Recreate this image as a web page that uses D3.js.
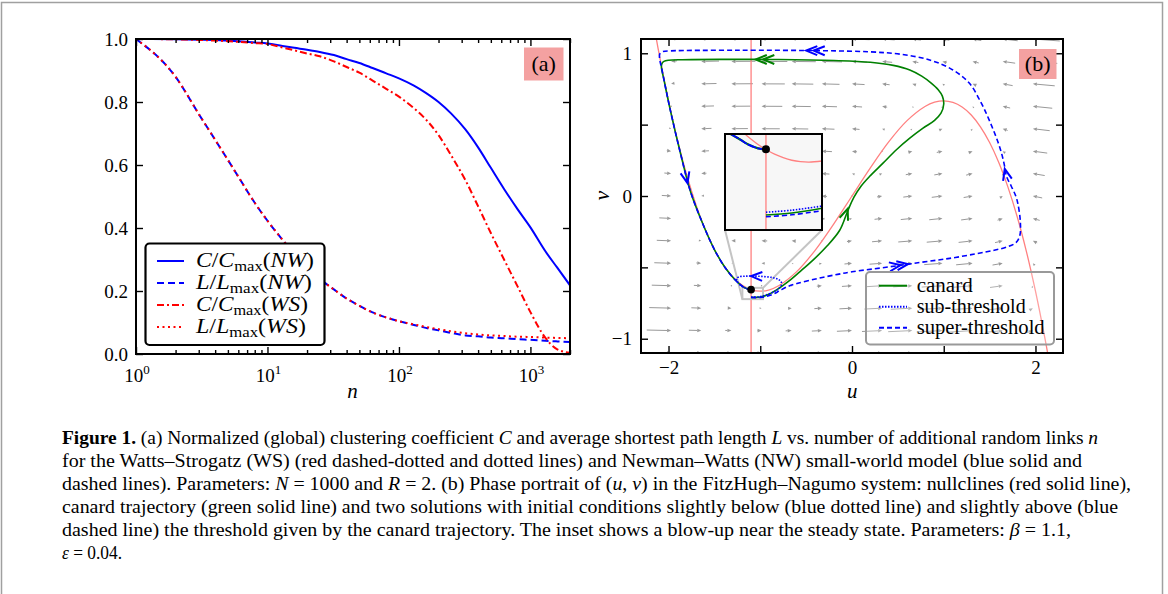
<!DOCTYPE html>
<html>
<head>
<meta charset="utf-8">
<script src="https://cdn.jsdelivr.net/npm/d3@7"></script>
<style>
body { margin: 0; background: #fff; }
svg text { font-family: "Liberation Serif", "DejaVu Serif", serif; white-space: pre; }
</style>
</head>
<body>
<svg id="fig" width="1168" height="594"></svg>
<script>
// ---- panel (a): clustering / path length vs n ----
var nVals = [1, 2, 3, 4, 5, 6, 8, 10, 13, 16, 20, 25, 32, 40, 50, 63, 80, 100, 130, 160, 200, 250, 320, 400, 500, 630, 800, 1000, 1300, 1600, 2000];
var cNW = [1.000, 0.999, 0.998, 0.997, 0.995, 0.993, 0.989, 0.986, 0.978, 0.972, 0.966, 0.959, 0.949, 0.936, 0.924, 0.908, 0.891, 0.875, 0.852, 0.829, 0.800, 0.763, 0.713, 0.656, 0.591, 0.524, 0.459, 0.402, 0.326, 0.274, 0.218];
var lNW = [1.000, 0.880, 0.762, 0.680, 0.616, 0.563, 0.480, 0.423, 0.363, 0.318, 0.274, 0.238, 0.205, 0.176, 0.153, 0.132, 0.116, 0.104, 0.092, 0.083, 0.075, 0.067, 0.059, 0.056, 0.052, 0.050, 0.047, 0.045, 0.042, 0.040, 0.038];
var cWS = [1.000, 0.999, 0.997, 0.995, 0.993, 0.991, 0.987, 0.984, 0.973, 0.964, 0.954, 0.945, 0.929, 0.911, 0.893, 0.868, 0.842, 0.817, 0.780, 0.745, 0.695, 0.630, 0.552, 0.469, 0.384, 0.300, 0.214, 0.133, 0.051, 0.015, 0.004];
var lWS = [1.000, 0.880, 0.762, 0.680, 0.616, 0.563, 0.480, 0.423, 0.363, 0.318, 0.274, 0.238, 0.205, 0.176, 0.153, 0.132, 0.116, 0.104, 0.094, 0.086, 0.079, 0.072, 0.066, 0.062, 0.059, 0.057, 0.055, 0.054, 0.052, 0.051, 0.050];
var yTicksA = [0, 0.2, 0.4, 0.6, 0.8, 1.0];
var decades = [1, 10, 100, 1000];

// ---- panel (b): FitzHugh-Nagumo phase portrait ----
var nullU = [-2.14, -2.1, -2.0, -1.9, -1.8, -1.7, -1.6, -1.5, -1.4, -1.3, -1.2, -1.1, -1.0, -0.9, -0.8, -0.6, -0.4, -0.2, 0, 0.2, 0.4, 0.6, 0.8, 0.9, 1.0, 1.1, 1.2, 1.3, 1.4, 1.5, 1.6, 1.7, 1.8, 1.9, 2.0, 2.1, 2.14];
var nullV = [1.127, 0.987, 0.667, 0.386, 0.144, -0.062, -0.235, -0.375, -0.485, -0.568, -0.624, -0.656, -0.667, -0.657, -0.629, -0.528, -0.379, -0.197, 0, 0.197, 0.379, 0.528, 0.629, 0.657, 0.667, 0.656, 0.624, 0.568, 0.485, 0.375, 0.235, 0.062, -0.144, -0.386, -0.667, -0.987, -1.127];
var beta = 1.1;
var steady = [-1.1, -0.656];

// vector field grid: fGrid = cubic nullcline value per column, dvGrid = v-rate per column
var uGrid = [-2.3, -1.9714, -1.6429, -1.3143, -0.9857, -0.6571, -0.3286, 0, 0.3286, 0.6571, 0.9857, 1.3143, 1.6429, 1.9714, 2.3];
var fGrid = [1.7557, 0.5825, -0.1648, -0.5575, -0.6665, -0.5625, -0.3168, 0, 0.3168, 0.5625, 0.6665, 0.5575, 0.1648, -0.5825, -1.7557];
var dvGrid = [-0.048, -0.0349, -0.0217, -0.0086, 0.0046, 0.0177, 0.0309, 0.044, 0.0571, 0.0703, 0.0834, 0.0966, 0.1097, 0.1229, 0.136];
var vGrid = [-1.1, -0.9429, -0.7857, -0.6286, -0.4714, -0.3143, -0.1571, 0, 0.1571, 0.3143, 0.4714, 0.6286, 0.7857, 0.9429, 1.1];

var leftBranch = [[-2.078, 0.905], [-2.05, 0.815], [-1.98, 0.60], [-1.87, 0.30], [-1.76, 0.03], [-1.62, -0.205], [-1.5, -0.375], [-1.38, -0.505], [-1.27, -0.59], [-1.19, -0.635], [-1.14, -0.651], [-1.1, -0.656]];
var canard = [[-1.1, -0.710], [-1.0, -0.708], [-0.9, -0.686], [-0.8, -0.648], [-0.7, -0.602], [-0.57, -0.531], [-0.425, -0.449], [-0.28, -0.356], [-0.134, -0.24], [-0.05, -0.11], [0.02, -0.01], [0.1, 0.07], [0.193, 0.138], [0.338, 0.23], [0.484, 0.324], [0.63, 0.405], [0.774, 0.475], [0.90, 0.53], [0.97, 0.58], [1.0, 0.645], [0.985, 0.70], [0.94, 0.745], [0.86, 0.793], [0.76, 0.84], [0.63, 0.883], [0.45, 0.915], [0.2, 0.937], [-0.2, 0.949], [-0.8, 0.956], [-1.4, 0.957], [-1.85, 0.955], [-2.0, 0.951], [-2.05, 0.943], [-2.072, 0.928]].concat(leftBranch);
var superT = [[-1.1, -0.7116], [-1.0, -0.711], [-0.93, -0.703], [-0.86, -0.688], [-0.79, -0.664], [-0.72, -0.64], [-0.6, -0.613], [-0.374, -0.578], [-0.156, -0.549], [0.0, -0.531], [0.41, -0.496], [0.75, -0.465], [1.065, -0.437], [1.35, -0.405], [1.55, -0.38], [1.70, -0.355], [1.79, -0.325], [1.83, -0.275], [1.835, -0.18], [1.81, -0.06], [1.785, 0.0], [1.735, 0.07], [1.684, 0.138], [1.66, 0.22], [1.63, 0.30], [1.59, 0.38], [1.54, 0.464], [1.48, 0.555], [1.41, 0.65], [1.28, 0.79], [1.10, 0.883], [0.847, 0.953], [0.52, 0.994], [0.193, 1.01], [-0.3, 1.018], [-1.246, 1.021], [-1.974, 1.017], [-2.06, 1.012], [-2.095, 0.995], [-2.097, 0.96], [-2.088, 0.93]].concat(leftBranch);
var subT = [[-1.1, -0.708], [-1.0, -0.705], [-0.9, -0.685], [-0.82, -0.66], [-0.775, -0.632], [-0.77, -0.605], [-0.8, -0.585], [-0.87, -0.571], [-0.97, -0.564], [-1.07, -0.561], [-1.17, -0.562], [-1.235, -0.567], [-1.258, -0.58], [-1.25, -0.6], [-1.21, -0.627], [-1.15, -0.648], [-1.1, -0.656]];

// flow direction marks: tip u, tip v, a point behind on the path, number of heads
var canardHeads = [[-1.05, 0.957, -0.8, 0.956, 2], [-0.047, -0.09, -0.134, -0.24, 1]];
var superHeads = [[-0.5, 1.019, -0.3, 1.018, 2], [-1.793, 0.09, -1.87, 0.30, 1], [1.665, 0.19, 1.70, 0.10, 1], [0.61, -0.477, 0.41, -0.496, 2]];
var subHeads = [[-1.10, -0.561, -0.97, -0.564, 1]];

// inset (blow-up near steady state)
var insetNullU = [-1.18, -1.16, -1.14, -1.12, -1.1, -1.08, -1.06, -1.04, -1.02, -1.0, -0.97];
var insetNullV = [-0.6323, -0.6397, -0.6462, -0.6517, -0.6563, -0.6601, -0.663, -0.6651, -0.6663, -0.6667, -0.6657];
var insetApproach = [[-1.182, -0.6435], [-1.16, -0.648], [-1.142, -0.652], [-1.118, -0.6553], [-1.1, -0.6563]];
var insetCanard = [[-1.1, -0.7102], [-1.04, -0.7085], [-0.97, -0.7046]];
var insetSuper = [[-1.1, -0.7116], [-1.04, -0.7100], [-0.97, -0.7066]];
var insetSub = [[-1.1, -0.7079], [-1.04, -0.7062], [-0.97, -0.7028]];

var captionLines = [
	[["Figure 1.", "b"], [" (a) Normalized (global) clustering coefficient ", ""], ["C", "i"], [" and average shortest path length ", ""], ["L", "i"], [" vs. number of additional random links ", ""], ["n", "i"]],
	[["for the Watts–Strogatz (WS) (red dashed-dotted and dotted lines) and Newman–Watts (NW) small-world model (blue solid and", ""]],
	[["dashed lines). Parameters: ", ""], ["N", "i"], [" = 1000 and ", ""], ["R", "i"], [" = 2. (b) Phase portrait of (", ""], ["u", "i"], [", ", ""], ["v", "i"], [") in the FitzHugh–Nagumo system: nullclines (red solid line),", ""]],
	[["canard trajectory (green solid line) and two solutions with initial conditions slightly below (blue dotted line) and slightly above (blue", ""]],
	[["dashed line) the threshold given by the canard trajectory. The inset shows a blow-up near the steady state. Parameters: ", ""], ["β", "i"], [" = 1.1,", ""]],
	[["ε", "i"], [" = 0.04.", ""]]
];
var captionRight = [1098, 1082, 1131, 1118, 1071, 122];

var svg = d3.select("#fig");
var FONT = "'Liberation Serif', 'DejaVu Serif', serif";

// outer frame of the figure
svg.append("rect").attr("x", 1.5).attr("y", 2.5).attr("width", 1161).attr("height", 600)
	.attr("fill", "none").attr("stroke", "#a0a0a0").attr("stroke-width", 1.5);

function styleAxis(g) {
	g.select(".domain").remove();
	g.selectAll(".tick line").attr("stroke", "#000").attr("stroke-width", 1.4);
	g.selectAll(".tick text").attr("font-family", FONT).attr("font-size", 19).attr("fill", "#000");
}

//================ panel (a) ================
var A = { l: 136, r: 570, t: 39, b: 354 };
var xA = d3.scaleLog().domain([1, 2000]).range([A.l, A.r]);
var yA = d3.scaleLinear().domain([0, 1]).range([A.b, A.t]);
var minorA = [];
decades.forEach(function(d) { for (var k = 2; k <= 9; k++) if (d * k <= 2000) minorA.push(d * k); });

var gA = svg.append("g");
gA.append("clipPath").attr("id", "clipA").append("rect")
	.attr("x", A.l).attr("y", A.t).attr("width", A.r - A.l).attr("height", A.b - A.t);

var seriesA = [
	{ vals: cNW, color: "#0000ff", dash: null, label: ["C", "C", "NW"] },
	{ vals: lNW, color: "#0000ff", dash: "7,4", label: ["L", "L", "NW"] },
	{ vals: cWS, color: "#ff0000", dash: "7,3,2,3", label: ["C", "C", "WS"] },
	{ vals: lWS, color: "#ff0000", dash: "2,3.5", label: ["L", "L", "WS"] }
];
var lineA = d3.line()
	.x(function(d) { return xA(d[0]); })
	.y(function(d) { return yA(d[1]); })
	.curve(d3.curveMonotoneX);

var plotA = gA.append("g").attr("clip-path", "url(#clipA)");
seriesA.forEach(function(s) {
	plotA.append("path")
		.datum(nVals.map(function(n, i) { return [n, s.vals[i]]; }))
		.attr("d", lineA)
		.attr("fill", "none")
		.attr("stroke", s.color)
		.attr("stroke-width", 2)
		.attr("stroke-dasharray", s.dash);
});

gA.append("g").attr("transform", "translate(" + A.l + ",0)")
	.call(d3.axisLeft(yA).tickValues(yTicksA).tickSize(-7).tickPadding(8).tickFormat(d3.format(".1f"))).call(styleAxis);
gA.append("g").attr("transform", "translate(" + A.r + ",0)")
	.call(d3.axisRight(yA).tickValues(yTicksA).tickSize(-7).tickFormat("")).call(styleAxis);
gA.append("g").attr("transform", "translate(0," + A.b + ")")
	.call(d3.axisBottom(xA).tickValues(decades).tickSize(-7).tickFormat("")).call(styleAxis);
gA.append("g").attr("transform", "translate(0," + A.b + ")")
	.call(d3.axisBottom(xA).tickValues(minorA).tickSize(-4).tickFormat("")).call(styleAxis);
gA.append("g").attr("transform", "translate(0," + A.t + ")")
	.call(d3.axisTop(xA).tickValues(decades).tickSize(-7).tickFormat("")).call(styleAxis);
gA.append("g").attr("transform", "translate(0," + A.t + ")")
	.call(d3.axisTop(xA).tickValues(minorA).tickSize(-4).tickFormat("")).call(styleAxis);

decades.forEach(function(d) {
	var t = gA.append("text").attr("x", xA(d) + 1).attr("y", 381.5)
		.attr("text-anchor", "middle").attr("font-size", 19);
	t.append("tspan").text("10");
	t.append("tspan").attr("font-size", 13).attr("dy", -8).text(Math.round(Math.log10(d)));
});

gA.append("rect").attr("x", A.l).attr("y", A.t).attr("width", A.r - A.l).attr("height", A.b - A.t)
	.attr("fill", "none").attr("stroke", "#000").attr("stroke-width", 2);

gA.append("text").attr("x", 352.5).attr("y", 398).attr("text-anchor", "middle")
	.attr("font-size", 21).attr("font-style", "italic").text("n");

// (a) tag
gA.append("rect").attr("x", 524).attr("y", 47.5).attr("width", 39.5).attr("height", 33).attr("fill", "#f4a1a1");
gA.append("text").attr("x", 543.7).attr("y", 71).attr("text-anchor", "middle").attr("font-size", 22).text("(a)");

// legend (a)
var legA = gA.append("g");
legA.append("rect").attr("x", 145.5).attr("y", 243.5).attr("width", 179).attr("height", 101.5)
	.attr("rx", 4).attr("fill", "#fff").attr("stroke", "#000").attr("stroke-width", 2.2);
var legRowsA = [261, 283, 305, 327];
var legWidthA = [118, 116, 112, 110];
seriesA.forEach(function(s, i) {
	var y = legRowsA[i];
	legA.append("line").attr("x1", 157).attr("x2", 184).attr("y1", y).attr("y2", y)
		.attr("stroke", s.color).attr("stroke-width", 2).attr("stroke-dasharray", s.dash);
	var t = legA.append("text").attr("x", 196).attr("y", y + 6).attr("font-size", 20)
		.attr("textLength", legWidthA[i]).attr("lengthAdjust", "spacingAndGlyphs");
	t.append("tspan").attr("font-style", "italic").text(s.label[0]);
	t.append("tspan").text("/");
	t.append("tspan").attr("font-style", "italic").text(s.label[1]);
	t.append("tspan").attr("font-size", 14).attr("dy", 4).text("max");
	t.append("tspan").attr("dy", -4).text("(");
	t.append("tspan").attr("font-style", "italic").text(s.label[2]);
	t.append("tspan").text(")");
});

//================ panel (b) ================
var B = { l: 641, r: 1063, t: 39, b: 353 };
var xB = d3.scaleLinear().domain([-2.3, 2.3]).range([B.l, B.r]);
var yB = d3.scaleLinear().domain([-1.1, 1.1]).range([B.b, B.t]);

var gB = svg.append("g");
gB.append("clipPath").attr("id", "clipB").append("rect")
	.attr("x", B.l).attr("y", B.t).attr("width", B.r - B.l).attr("height", B.b - B.t);
var plotB = gB.append("g").attr("clip-path", "url(#clipB)");

// quiver field (arrow tip sits on grid point)
var arrowScale = 16;
var quiver = [];
uGrid.forEach(function(u, i) {
	vGrid.forEach(function(v) {
		quiver.push({ u: u, v: v, du: fGrid[i] - v, dv: dvGrid[i] });
	});
});
var qg = plotB.append("g").attr("fill", "#999").attr("stroke", "#999");
quiver.forEach(function(q) {
	var tx = xB(q.u), ty = yB(q.v);
	var dx = q.du * arrowScale, dy = -q.dv * arrowScale;
	var L = Math.sqrt(dx * dx + dy * dy);
	if (L < 1.2) {
		qg.append("circle").attr("cx", tx).attr("cy", ty).attr("r", 0.7).attr("stroke", "none");
		return;
	}
	var ux = dx / L, uy = dy / L;
	var hl = Math.min(4, L), hw = Math.min(1.8, L * 0.45);
	var bx = tx - ux * hl, by = ty - uy * hl;
	if (L > hl) {
		qg.append("line").attr("x1", tx - dx).attr("y1", ty - dy).attr("x2", bx).attr("y2", by)
			.attr("stroke-width", 1);
	}
	qg.append("path").attr("stroke", "none")
		.attr("d", "M" + tx + "," + ty + "L" + (bx - uy * hw) + "," + (by + ux * hw) + "L" + (bx + uy * hw) + "," + (by - ux * hw) + "Z");
});

var lineB = d3.line()
	.x(function(d) { return xB(d[0]); })
	.y(function(d) { return yB(d[1]); })
	.curve(d3.curveCatmullRom.alpha(0.5));

// nullclines
plotB.append("path").datum(nullU.map(function(u, i) { return [u, nullV[i]]; }))
	.attr("d", lineB).attr("fill", "none").attr("stroke", "#ff8080").attr("stroke-width", 1.3);
plotB.append("line").attr("x1", xB(-beta)).attr("x2", xB(-beta)).attr("y1", B.t).attr("y2", B.b)
	.attr("stroke", "#ff8080").attr("stroke-width", 1.3);

// inset marker box and connectors
var xI = d3.scaleLinear().domain([-1.195, -0.97]).range([725, 822]);
var yI = d3.scaleLinear().domain([-0.7225, -0.6435]).range([230, 134]);
var mk = { x0: xB(-1.195), x1: xB(-0.97), y0: yB(-0.6435), y1: yB(-0.7225) };
plotB.append("rect").attr("x", mk.x0).attr("y", mk.y0).attr("width", mk.x1 - mk.x0).attr("height", mk.y1 - mk.y0)
	.attr("fill", "none").attr("stroke", "#c4c4c4").attr("stroke-width", 2);
plotB.append("line").attr("x1", 725).attr("y1", 230).attr("x2", mk.x0).attr("y2", mk.y1)
	.attr("stroke", "#c4c4c4").attr("stroke-width", 2);
plotB.append("line").attr("x1", 822).attr("y1", 230).attr("x2", mk.x1).attr("y2", mk.y0)
	.attr("stroke", "#c4c4c4").attr("stroke-width", 2);

// trajectories
var trajStyle = [
	{ pts: canard, color: "#008000", dash: null, w: 1.6, heads: canardHeads },
	{ pts: subT, color: "#0000ff", dash: "1.5,1.5", w: 1.6, heads: subHeads },
	{ pts: superT, color: "#0000ff", dash: "5,3", w: 1.6, heads: superHeads }
];
trajStyle.forEach(function(s) {
	plotB.append("path").datum(s.pts).attr("d", lineB)
		.attr("fill", "none").attr("stroke", s.color).attr("stroke-width", s.w).attr("stroke-dasharray", s.dash);
});

function chevrons(g, h, color, xs, ys) {
	var tx = xs(h[0]), ty = ys(h[1]);
	var dx = tx - xs(h[2]), dy = ty - ys(h[3]);
	var L = Math.sqrt(dx * dx + dy * dy);
	var ux = dx / L, uy = dy / L;
	var arm = 12, sp = Math.sin(22 * Math.PI / 180), cp = Math.cos(22 * Math.PI / 180);
	for (var k = 0; k < h[4]; k++) {
		var px = tx - ux * 7.5 * k, py = ty - uy * 7.5 * k;
		var ax1 = px - arm * (ux * cp - uy * sp), ay1 = py - arm * (uy * cp + ux * sp);
		var ax2 = px - arm * (ux * cp + uy * sp), ay2 = py - arm * (uy * cp - ux * sp);
		g.append("path").attr("d", "M" + ax1 + "," + ay1 + "L" + px + "," + py + "L" + ax2 + "," + ay2)
			.attr("fill", "none").attr("stroke", color).attr("stroke-width", 2);
	}
}
trajStyle.forEach(function(s) {
	s.heads.forEach(function(h) { chevrons(plotB, h, s.color, xB, yB); });
});

// steady state
plotB.append("circle").attr("cx", xB(steady[0])).attr("cy", yB(steady[1])).attr("r", 3.8).attr("fill", "#000");

// inset
var gI = gB.append("g");
gI.append("clipPath").attr("id", "clipI").append("rect").attr("x", 725).attr("y", 134).attr("width", 97).attr("height", 96);
gI.append("rect").attr("x", 725).attr("y", 134).attr("width", 97).attr("height", 96).attr("fill", "#f7f7f7");
var inPlot = gI.append("g").attr("clip-path", "url(#clipI)");
var lineI = d3.line()
	.x(function(d) { return xI(d[0]); })
	.y(function(d) { return yI(d[1]); })
	.curve(d3.curveCatmullRom.alpha(0.5));
inPlot.append("path").datum(insetNullU.map(function(u, i) { return [u, insetNullV[i]]; }))
	.attr("d", lineI).attr("fill", "none").attr("stroke", "#ff8080").attr("stroke-width", 1.3);
inPlot.append("line").attr("x1", xI(-beta)).attr("x2", xI(-beta)).attr("y1", 134).attr("y2", 230)
	.attr("stroke", "#ff8080").attr("stroke-width", 1.3);
inPlot.append("path").datum(insetApproach).attr("d", lineI).attr("fill", "none").attr("stroke", "#008000").attr("stroke-width", 2.2);
inPlot.append("path").datum(insetApproach).attr("d", lineI).attr("fill", "none").attr("stroke", "#0000ff").attr("stroke-width", 1.8).attr("stroke-dasharray", "9,1");
inPlot.append("path").datum(insetCanard).attr("d", lineI).attr("fill", "none").attr("stroke", "#008000").attr("stroke-width", 1.6);
inPlot.append("path").datum(insetSub).attr("d", lineI).attr("fill", "none").attr("stroke", "#0000ff").attr("stroke-width", 1.6).attr("stroke-dasharray", "1.5,1.5");
inPlot.append("path").datum(insetSuper).attr("d", lineI).attr("fill", "none").attr("stroke", "#0000ff").attr("stroke-width", 1.6).attr("stroke-dasharray", "5,3");
inPlot.append("circle").attr("cx", xI(steady[0])).attr("cy", yI(steady[1])).attr("r", 4).attr("fill", "#000");
gI.append("rect").attr("x", 725).attr("y", 134).attr("width", 97).attr("height", 96)
	.attr("fill", "none").attr("stroke", "#000").attr("stroke-width", 2);

// axes (b)
var uTicks = [-2, -1, 0, 1, 2], vTicks = [-1, -0.5, 0, 0.5, 1];
var evenFmt = function(d) { return d % 2 === 0 ? d3.format("d")(d) : ""; };
var intFmt = function(d) { return Number.isInteger(d) ? d3.format("d")(d) : ""; };
gB.append("g").attr("transform", "translate(0," + B.b + ")")
	.call(d3.axisBottom(xB).tickValues(uTicks).tickSize(-7).tickPadding(8).tickFormat(evenFmt)).call(styleAxis);
gB.append("g").attr("transform", "translate(0," + B.t + ")")
	.call(d3.axisTop(xB).tickValues(uTicks).tickSize(-7).tickFormat("")).call(styleAxis);
gB.append("g").attr("transform", "translate(" + B.l + ",0)")
	.call(d3.axisLeft(yB).tickValues(vTicks).tickSize(-7).tickPadding(9).tickFormat(intFmt)).call(styleAxis);
gB.append("g").attr("transform", "translate(" + B.r + ",0)")
	.call(d3.axisRight(yB).tickValues(vTicks).tickSize(-7).tickFormat("")).call(styleAxis);
gB.append("rect").attr("x", B.l).attr("y", B.t).attr("width", B.r - B.l).attr("height", B.b - B.t)
	.attr("fill", "none").attr("stroke", "#000").attr("stroke-width", 2);

gB.append("text").attr("x", 852.3).attr("y", 398).attr("text-anchor", "middle")
	.attr("font-size", 21).attr("font-style", "italic").text("u");
gB.append("text").attr("transform", "translate(608.5,195.7) rotate(-90)").attr("text-anchor", "middle")
	.attr("font-size", 22).attr("font-style", "italic").text("v");

// (b) tag
gB.append("rect").attr("x", 1019).attr("y", 49).attr("width", 37.5).attr("height", 30).attr("fill", "#f4a1a1");
gB.append("text").attr("x", 1037.7).attr("y", 71).attr("text-anchor", "middle").attr("font-size", 22).text("(b)");

// legend (b)
var legB = gB.append("g");
legB.append("rect").attr("x", 866).attr("y", 272).attr("width", 188).attr("height", 72.5).attr("rx", 4)
	.attr("fill", "#fff").attr("fill-opacity", 0.25).attr("stroke", "#999").attr("stroke-width", 2);
var legNamesB = ["canard", "sub-threshold", "super-threshold"];
var legWidthB = [56, 109, 128];
var legRowsB = [285.7, 306.7, 327.7];
trajStyle.forEach(function(s, i) {
	legB.append("line").attr("x1", 879).attr("x2", 907).attr("y1", legRowsB[i]).attr("y2", legRowsB[i])
		.attr("stroke", s.color).attr("stroke-width", 2).attr("stroke-dasharray", s.dash);
	legB.append("text").attr("x", 916.7).attr("y", legRowsB[i] + 6).attr("font-size", 20)
		.attr("textLength", legWidthB[i]).attr("lengthAdjust", "spacingAndGlyphs").text(legNamesB[i]);
});

//================ caption ================
captionLines.forEach(function(segs, i) {
	var t = svg.append("text").attr("x", 62).attr("y", 444 + 23 * i).attr("font-size", 19)
		.attr("textLength", captionRight[i] - 62).attr("lengthAdjust", "spacingAndGlyphs");
	segs.forEach(function(s) {
		var sp = t.append("tspan").text(s[0]);
		if (s[1] === "b") sp.attr("font-weight", "bold");
		if (s[1] === "i") sp.attr("font-style", "italic");
	});
});
</script>
</body>
</html>
